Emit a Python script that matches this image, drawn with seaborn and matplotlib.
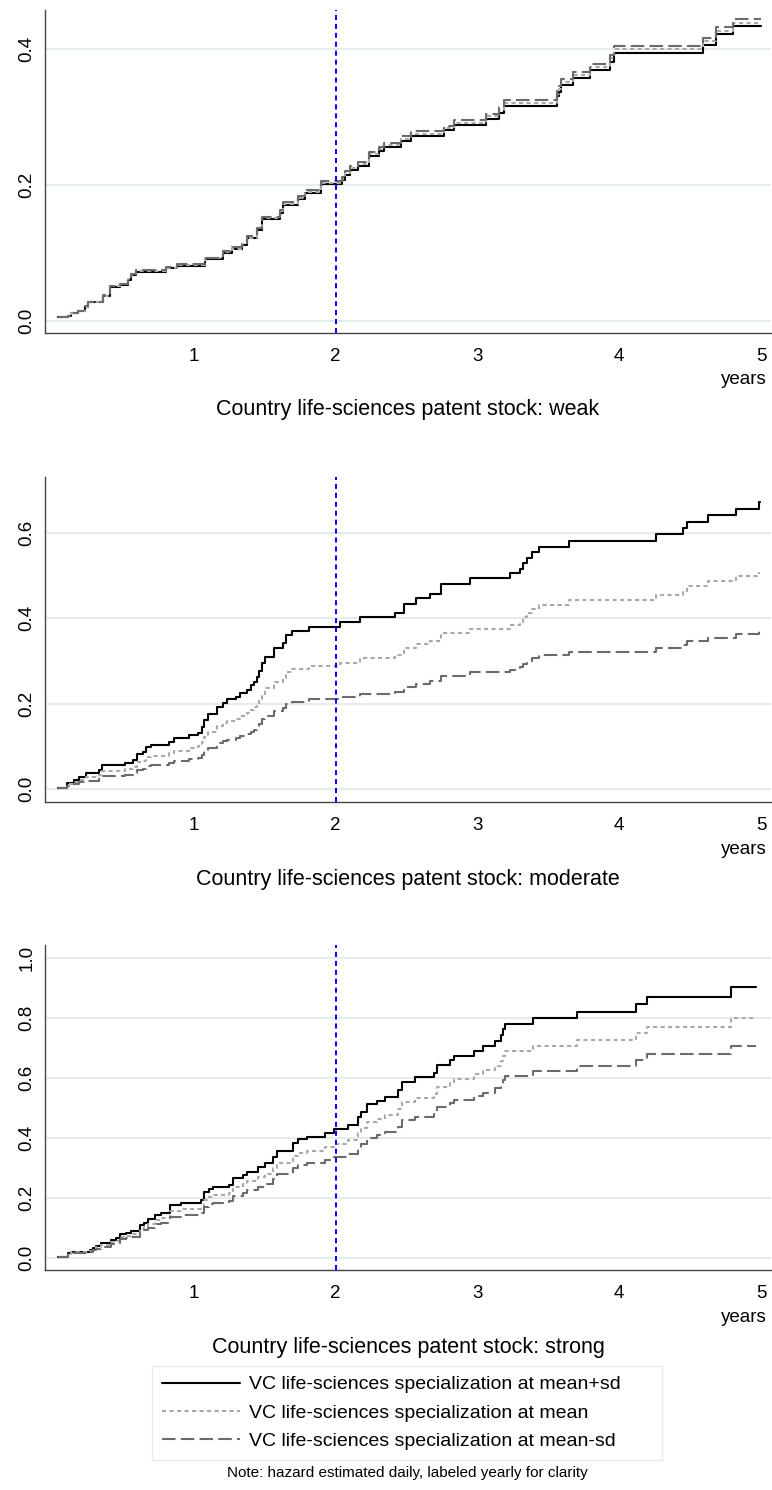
import matplotlib
matplotlib.use('Agg')
import matplotlib.pyplot as plt
import numpy as np
import pandas as pd
import seaborn as sns

# ---- data (cumulative hazard, step functions) ----
series_names = ['VC life-sciences specialization at mean+sd',
                'VC life-sciences specialization at mean',
                'VC life-sciences specialization at mean-sd']
panel_titles = ['Country life-sciences patent stock: weak',
                'Country life-sciences patent stock: moderate',
                'Country life-sciences patent stock: strong']
year_ticks = [1, 2, 3, 4, 5]
note = 'Note: hazard estimated daily, labeled yearly for clarity'

# weak
weak_times = [0.041, 0.112, 0.135, 0.182, 0.230, 0.253, 0.359, 0.406, 0.477, 0.536,
              0.553, 0.595, 0.802, 0.878, 1.078, 1.203, 1.266, 1.337, 1.372, 1.447,
              1.478, 1.608, 1.631, 1.733, 1.784, 1.895, 2.044, 2.067, 2.102, 2.154,
              2.232, 2.302, 2.338, 2.461, 2.531, 2.767, 2.833, 3.057, 3.151, 3.186,
              3.563, 3.575, 3.591, 3.674, 3.794, 3.935, 3.963, 4.588, 4.682, 4.800]
weak_end = 5.0
weak_hi = [0.005, 0.007, 0.011, 0.015, 0.020, 0.027, 0.037, 0.050, 0.053, 0.060,
           0.067, 0.072, 0.077, 0.081, 0.091, 0.100, 0.105, 0.112, 0.121, 0.134,
           0.149, 0.159, 0.170, 0.179, 0.188, 0.201, 0.207, 0.215, 0.221, 0.228,
           0.242, 0.249, 0.256, 0.264, 0.272, 0.280, 0.288, 0.297, 0.306, 0.316,
           0.330, 0.337, 0.347, 0.357, 0.369, 0.381, 0.394, 0.406, 0.421, 0.433]
weak_mid = [0.005, 0.007, 0.011, 0.015, 0.020, 0.027, 0.037, 0.051, 0.054, 0.061,
            0.068, 0.073, 0.078, 0.082, 0.092, 0.101, 0.106, 0.113, 0.122, 0.136,
            0.151, 0.161, 0.172, 0.181, 0.190, 0.203, 0.209, 0.218, 0.224, 0.231,
            0.245, 0.252, 0.259, 0.267, 0.275, 0.283, 0.291, 0.301, 0.310, 0.320,
            0.334, 0.341, 0.351, 0.361, 0.373, 0.386, 0.399, 0.411, 0.426, 0.438]
weak_lo = [0.005, 0.007, 0.011, 0.015, 0.021, 0.028, 0.038, 0.051, 0.054, 0.062,
           0.069, 0.074, 0.079, 0.083, 0.093, 0.103, 0.108, 0.115, 0.124, 0.137,
           0.153, 0.163, 0.174, 0.183, 0.193, 0.206, 0.212, 0.220, 0.227, 0.234,
           0.248, 0.255, 0.262, 0.271, 0.279, 0.287, 0.295, 0.304, 0.314, 0.324,
           0.338, 0.345, 0.356, 0.366, 0.378, 0.391, 0.404, 0.416, 0.432, 0.444]

# moderate
mod_times = [0.041, 0.107, 0.152, 0.190, 0.237, 0.331, 0.355, 0.512, 0.571, 0.602,
             0.642, 0.661, 0.701, 0.826, 0.861, 0.967, 1.030, 1.054, 1.071, 1.101,
             1.160, 1.203, 1.231, 1.297, 1.325, 1.372, 1.401, 1.424, 1.443, 1.462,
             1.478, 1.502, 1.565, 1.627, 1.650, 1.690, 1.815, 2.027, 2.173, 2.420,
             2.479, 2.569, 2.663, 2.743, 2.946, 3.228, 3.299, 3.323, 3.346, 3.387,
             3.433, 3.645, 4.258, 4.447, 4.477, 4.623, 4.823, 4.985]
mod_end = 4.995
mod_hi = [0.003, 0.015, 0.021, 0.029, 0.037, 0.044, 0.056, 0.062, 0.069, 0.083,
          0.087, 0.099, 0.103, 0.111, 0.119, 0.126, 0.132, 0.146, 0.161, 0.175,
          0.193, 0.202, 0.210, 0.216, 0.224, 0.233, 0.243, 0.251, 0.263, 0.277,
          0.294, 0.310, 0.329, 0.341, 0.360, 0.370, 0.380, 0.390, 0.402, 0.412,
          0.434, 0.446, 0.456, 0.480, 0.493, 0.505, 0.516, 0.529, 0.541, 0.555,
          0.567, 0.581, 0.596, 0.610, 0.625, 0.641, 0.656, 0.672]
mod_mid = [0.002, 0.011, 0.016, 0.022, 0.028, 0.033, 0.043, 0.047, 0.052, 0.063,
           0.066, 0.075, 0.078, 0.084, 0.090, 0.096, 0.100, 0.111, 0.122, 0.133,
           0.147, 0.154, 0.160, 0.164, 0.170, 0.177, 0.185, 0.191, 0.200, 0.211,
           0.223, 0.236, 0.250, 0.259, 0.274, 0.281, 0.289, 0.296, 0.306, 0.313,
           0.330, 0.339, 0.347, 0.365, 0.375, 0.384, 0.392, 0.402, 0.411, 0.422,
           0.431, 0.442, 0.453, 0.464, 0.475, 0.487, 0.499, 0.505]
mod_lo = [0.002, 0.008, 0.012, 0.016, 0.020, 0.024, 0.031, 0.034, 0.038, 0.046,
          0.048, 0.055, 0.057, 0.061, 0.066, 0.070, 0.073, 0.081, 0.089, 0.097,
          0.107, 0.112, 0.116, 0.119, 0.124, 0.129, 0.134, 0.139, 0.145, 0.153,
          0.163, 0.171, 0.182, 0.189, 0.199, 0.205, 0.210, 0.216, 0.222, 0.228,
          0.240, 0.247, 0.252, 0.265, 0.273, 0.279, 0.285, 0.293, 0.299, 0.307,
          0.314, 0.321, 0.330, 0.337, 0.346, 0.354, 0.363, 0.372]

# strong
str_times = [0.041, 0.112, 0.135, 0.265, 0.289, 0.312, 0.348, 0.418, 0.454, 0.482,
             0.519, 0.560, 0.623, 0.647, 0.677, 0.724, 0.765, 0.830, 0.908, 1.049,
             1.071, 1.108, 1.137, 1.250, 1.278, 1.348, 1.377, 1.455, 1.502, 1.561,
             1.584, 1.702, 1.737, 1.796, 1.926, 1.985, 2.084, 2.154, 2.178, 2.220,
             2.291, 2.350, 2.440, 2.468, 2.562, 2.691, 2.715, 2.809, 2.837, 2.974,
             3.040, 3.127, 3.163, 3.182, 3.191, 3.391, 3.704, 4.117, 4.194, 4.788]
str_end = 4.965
str_hi = [0.004, 0.016, 0.021, 0.027, 0.032, 0.040, 0.049, 0.060, 0.066, 0.080,
          0.084, 0.091, 0.110, 0.118, 0.129, 0.143, 0.149, 0.177, 0.184, 0.193,
          0.219, 0.229, 0.236, 0.243, 0.266, 0.277, 0.288, 0.304, 0.316, 0.338,
          0.358, 0.384, 0.396, 0.404, 0.418, 0.431, 0.443, 0.471, 0.488, 0.513,
          0.524, 0.538, 0.560, 0.588, 0.602, 0.616, 0.643, 0.660, 0.673, 0.691,
          0.707, 0.724, 0.743, 0.762, 0.780, 0.799, 0.821, 0.846, 0.871, 0.904]
str_mid = [0.004, 0.014, 0.019, 0.024, 0.028, 0.035, 0.043, 0.053, 0.058, 0.071,
           0.074, 0.081, 0.097, 0.104, 0.114, 0.127, 0.132, 0.157, 0.163, 0.171,
           0.194, 0.203, 0.209, 0.215, 0.235, 0.245, 0.255, 0.269, 0.280, 0.299,
           0.317, 0.340, 0.350, 0.358, 0.370, 0.381, 0.392, 0.417, 0.432, 0.454,
           0.464, 0.476, 0.496, 0.520, 0.533, 0.545, 0.569, 0.584, 0.596, 0.612,
           0.626, 0.641, 0.658, 0.674, 0.690, 0.707, 0.727, 0.749, 0.771, 0.800]
str_lo = [0.003, 0.012, 0.016, 0.021, 0.025, 0.031, 0.038, 0.047, 0.051, 0.062,
          0.066, 0.071, 0.086, 0.092, 0.101, 0.112, 0.116, 0.138, 0.144, 0.151,
          0.171, 0.179, 0.184, 0.190, 0.207, 0.216, 0.225, 0.237, 0.246, 0.264,
          0.279, 0.300, 0.309, 0.315, 0.326, 0.336, 0.346, 0.367, 0.381, 0.400,
          0.409, 0.420, 0.437, 0.459, 0.470, 0.480, 0.502, 0.515, 0.525, 0.539,
          0.551, 0.565, 0.580, 0.594, 0.608, 0.623, 0.640, 0.660, 0.679, 0.705]

y_ticks = [[0.0, 0.2, 0.4], [0.0, 0.2, 0.4, 0.6], [0.0, 0.2, 0.4, 0.6, 0.8, 1.0]]
y_lims = [(-0.018, 0.457), (-0.030, 0.73), (-0.04, 1.043)]


def make_frame(times, end, curves):
    rows = []
    for name, vals in zip(series_names, curves):
        for t, v in zip(list(times) + [end], list(vals) + [vals[-1]]):
            rows.append((name, t, v))
    return pd.DataFrame(rows, columns=['series', 'years', 'hazard'])


panels = [make_frame(weak_times, weak_end, [weak_hi, weak_mid, weak_lo]),
          make_frame(mod_times, mod_end, [mod_hi, mod_mid, mod_lo]),
          make_frame(str_times, str_end, [str_hi, str_mid, str_lo])]

sns.set_style('white')
plt.rcParams['font.family'] = ['Liberation Sans', 'DejaVu Sans']
plt.rcParams['text.color'] = 'black'

palette = dict(zip(series_names, ['black', '#a9a9a9', '#6b6b6b']))
dashes = dict(zip(series_names, ['', (2.0, 1.6), (6.5, 2.5)]))

W, H = 772, 1490
fig = plt.figure(figsize=(W / 100, H / 100), dpi=100)
# axes boxes in pixels: (top, bottom)
boxes = [(10, 333), (477, 802), (945, 1270)]
left_px, right_px = 45, 771

handles = labels = None
for i, (df, (top, bot)) in enumerate(zip(panels, boxes)):
    ax = fig.add_axes([left_px / W, 1 - bot / H, (right_px - left_px) / W, (bot - top) / H])
    sns.lineplot(data=df, x='years', y='hazard', hue='series', style='series',
                 palette=palette, dashes=dashes, drawstyle='steps-post',
                 estimator=None, sort=False, lw=1.5, ax=ax, legend=(i == 0))
    if i == 0:
        handles, labels = ax.get_legend_handles_labels()
        ax.get_legend().remove()
    ax.axvline(2, color='#0000ff', lw=1.4, dashes=(2.6, 2.0), zorder=5)

    ax.set_xlim(-0.05, 5.07)
    ax.set_ylim(*y_lims[i])
    ax.set_xticks(year_ticks)
    ax.set_xticklabels([str(t) for t in year_ticks])
    ax.set_yticks(y_ticks[i])
    ax.set_yticklabels([f'{v:.1f}' for v in y_ticks[i]], rotation=90, va='center')
    ax.set_xlabel('')
    ax.set_ylabel('')
    ax.yaxis.grid(True, color='#e3ebed', lw=1.3)
    ax.set_axisbelow(True)
    sns.despine(ax=ax)
    for s in ['left', 'bottom']:
        ax.spines[s].set_color('#444444')
        ax.spines[s].set_linewidth(1.0)
    ax.tick_params(axis='both', direction='out', length=5, width=1,
                   color='#444444', labelsize=13.5, labelcolor='black')
    ax.tick_params(axis='x', pad=6)
    ax.tick_params(axis='y', pad=2)

    ax.annotate('years', xy=(1, 0), xycoords='axes fraction', xytext=(-4, -47),
                textcoords='offset pixels', ha='right', va='center', fontsize=13.5,
                color='black')
    ax.annotate(panel_titles[i], xy=(0.5, 0), xycoords='axes fraction', xytext=(0, -77),
                textcoords='offset pixels', ha='center', va='center', fontsize=15.5,
                color='black')

leg = fig.legend(handles, labels, loc='upper left',
                 bbox_to_anchor=(152 / W, 1 - 1366 / H, 510 / W, 0),
                 mode='expand', borderaxespad=0, frameon=True, fancybox=False,
                 edgecolor='#dfe7e9', fontsize=14, handlelength=4.0,
                 handletextpad=0.5, labelspacing=0.55, borderpad=0.5,
                 labelcolor='black')
leg.get_frame().set_linewidth(1.0)

fig.text(407 / W, 1 - 1473 / H, note, ha='center', va='center', fontsize=11,
         color='black')

fig.savefig('out.png', dpi=100)
